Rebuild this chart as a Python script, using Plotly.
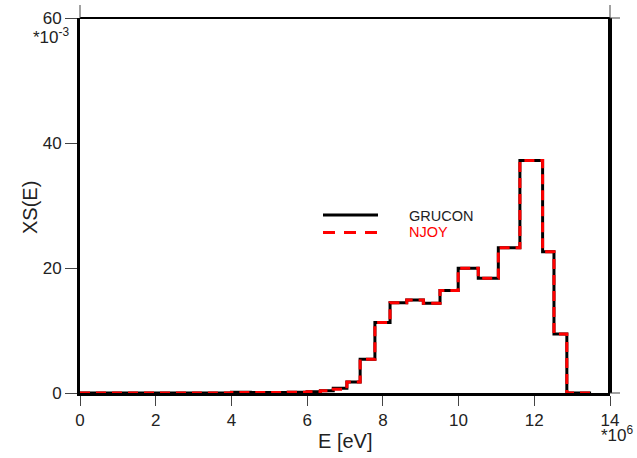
import plotly.graph_objects as go

# Energy group boundaries in units of 1e6 eV
energy_edges = [0, 1, 2, 3, 4, 4.5, 5, 5.5, 6, 6.35, 6.69, 7.05, 7.40, 7.79, 8.19,
                8.63, 9.07, 9.51, 9.99, 10.52, 11.05, 11.62, 12.22, 12.52, 12.86, 13.5]
# Group cross sections in units of 1e-3
xs_grucon = [0, 0, 0, 0.02, 0.12, 0.08, 0.10, 0.12, 0.20, 0.37, 0.75, 1.75, 5.4, 11.3,
             14.45, 14.9, 14.35, 16.4, 19.95, 18.35, 23.25, 37.2, 22.6, 9.45, 0.02]
xs_njoy = [0, 0, 0, 0.02, 0.10, 0.08, 0.10, 0.12, 0.20, 0.37, 0.60, 1.75, 5.4, 11.3,
           14.45, 14.9, 14.35, 16.4, 19.95, 18.35, 23.25, 37.2, 22.6, 9.45, 0.02]

x_ticks = [0, 2, 4, 6, 8, 10, 12, 14]
y_ticks = [0, 20, 40, 60]

FONT = "Liberation Sans, Arial, sans-serif"

fig = go.Figure()
fig.add_trace(go.Scatter(x=energy_edges, y=xs_grucon + [xs_grucon[-1]], mode="lines",
                         line=dict(color="black", width=3, shape="hv"),
                         name="GRUCON", showlegend=False, hoverinfo="skip"))
fig.add_trace(go.Scatter(x=energy_edges, y=xs_njoy + [xs_njoy[-1]], mode="lines",
                         line=dict(color="#ff0000", width=3, shape="hv", dash="10px,6px"),
                         name="NJOY", showlegend=False, hoverinfo="skip"))

W, H = 637, 458
L, R, T, B = 80, 27, 18, 65
pw, ph = W - L - R, H - T - B

def px(xp):
    return (xp - L) / pw

def py(yp):
    return (H - B - yp) / ph

shapes = [
    # frame top and right
    dict(type="line", xref="paper", yref="paper", x0=0, x1=1, y0=1, y1=1,
         line=dict(color="black", width=2)),
    dict(type="line", xref="paper", yref="paper", x0=1, x1=1, y0=0, y1=1,
         line=dict(color="black", width=4)),
    # corner tick extensions
    dict(type="line", xref="paper", yref="paper", x0=0, x1=0, y0=1, y1=py(5),
         line=dict(color="#444", width=1)),
    dict(type="line", xref="paper", yref="paper", x0=1, x1=1, y0=1, y1=py(5),
         line=dict(color="#444", width=1)),
    dict(type="line", xref="paper", yref="paper", x0=1, x1=px(620), y0=1, y1=1,
         line=dict(color="#444", width=1)),
    dict(type="line", xref="paper", yref="paper", x0=1, x1=px(620), y0=0, y1=0,
         line=dict(color="#444", width=1)),
    # legend samples
    dict(type="line", xref="paper", yref="paper", x0=px(323), x1=px(378),
         y0=py(215), y1=py(215), line=dict(color="black", width=3)),
    dict(type="line", xref="paper", yref="paper", x0=px(323), x1=px(378),
         y0=py(232.5), y1=py(232.5), line=dict(color="#ff0000", width=3, dash="12px,9px")),
]

annotations = [
    dict(text="GRUCON", xref="paper", yref="paper", x=px(407), y=py(216),
         xanchor="left", yanchor="middle", showarrow=False,
         font=dict(family=FONT, size=14.5, color="#222")),
    dict(text="NJOY", xref="paper", yref="paper", x=px(407), y=py(232),
         xanchor="left", yanchor="middle", showarrow=False,
         font=dict(family=FONT, size=14.5, color="#ff0000")),
    dict(text="*10<sup>-3</sup>", xref="paper", yref="paper", x=px(71), y=py(36),
         xanchor="right", yanchor="middle", showarrow=False,
         font=dict(family=FONT, size=17, color="#222")),
    dict(text="*10<sup>6</sup>", xref="paper", yref="paper", x=px(617), y=py(434),
         xanchor="center", yanchor="middle", showarrow=False,
         font=dict(family=FONT, size=17, color="#222")),
    dict(text="E [eV]", xref="paper", yref="paper", x=px(345), y=py(441),
         xanchor="center", yanchor="middle", showarrow=False,
         font=dict(family=FONT, size=20, color="#222")),
    dict(text="XS(E)", xref="paper", yref="paper", x=px(30), y=py(207),
         xanchor="center", yanchor="middle", showarrow=False, textangle=-90,
         font=dict(family=FONT, size=20, color="#222")),
]

fig.update_layout(
    width=W, height=H,
    margin=dict(l=L, r=R, t=T, b=B, pad=0),
    plot_bgcolor="white", paper_bgcolor="white",
    font=dict(family=FONT, size=17, color="#222"),
    shapes=shapes, annotations=annotations,
    xaxis=dict(range=[0, 14], tickvals=x_ticks, ticktext=[str(v) for v in x_ticks],
               showgrid=False, zeroline=False, showline=True, linecolor="black", linewidth=3,
               ticks="outside", ticklen=10, tickwidth=1, tickcolor="#444", automargin=False),
    yaxis=dict(range=[0, 60], tickvals=y_ticks, ticktext=[str(v) for v in y_ticks],
               showgrid=False, zeroline=False, showline=True, linecolor="black", linewidth=3,
               ticks="outside", ticklen=12, tickwidth=1, tickcolor="#444", automargin=False),
)

fig.write_html("out.html")
